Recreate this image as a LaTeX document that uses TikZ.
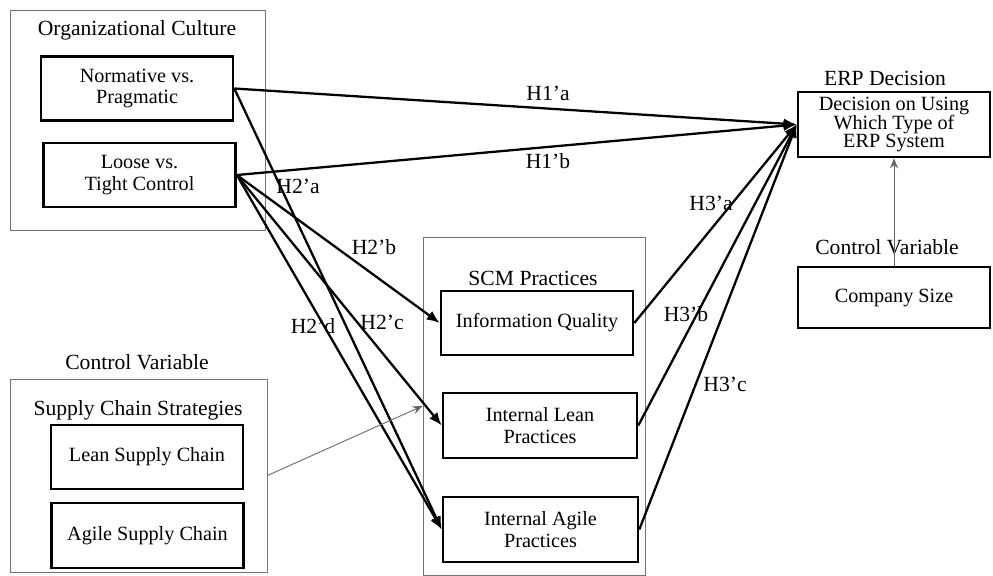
\documentclass[tikz,border=0pt]{standalone}
\usepackage{fontspec}
\setmainfont{Liberation Serif}
\usepackage{tikz}
\usetikzlibrary{arrows.meta,positioning}

\begin{document}
\begin{tikzpicture}[
  x=0.02cm, y=-0.02cm,
  font=\fontsize{11.5}{12.5}\selectfont,
  box/.style={
    draw, line width=1.5pt,
    align=center, inner sep=2pt,
    minimum width=3.84cm, minimum height=1.28cm
  },
  frame/.style={
    draw=black!55, line width=0.5pt
  },
  title/.style={
    font=\fontsize{12.3}{13}\selectfont, align=center},
  hyp/.style={
    font=\fontsize{12.3}{13}\selectfont},
  arrow/.style={
    -{Latex[length=2.6mm,width=2.1mm]},
    line width=1.3pt},
  thin/.style={
    -{Stealth[length=2mm,width=1.6mm]},
    draw=black!60, line width=0.5pt}
]

\useasboundingbox (0,0) rectangle (993,575);

\node[frame, minimum width=5.1cm, minimum height=4.4cm]
  (ocframe) at (137.5,120) {};
\node[title] (octitle) at (137,30) {Organizational Culture};
\node[box] (norm) at (137,88.5) {Normative vs.\\Pragmatic};
\node[box] (loose) at (139.5,175) {Loose vs.\\Tight Control};

\node[frame, minimum width=5.14cm, minimum height=3.86cm]
  (scframe) at (138.5,475.5) {};
\node[title] (cvleft) at (137,362) {Control Variable};
\node[title] (sctitle) at (138,410) {Supply Chain Strategies};
\node[box] (leansc) at (147,457) {Lean Supply Chain};
\node[box, minimum height=1.3cm] (agilesc) at (147.5,535.5)
  {Agile Supply Chain};

\node[frame, minimum width=4.44cm, minimum height=6.76cm]
  (scmframe) at (534,406) {};
\node[title] (scmtitle) at (533,278) {SCM Practices};
\node[box] (iq) at (537,323) {Information Quality};
\node[box, minimum width=3.88cm, minimum height=1.3cm] (lean)
  at (540,425.5) {Internal Lean\\Practices};
\node[box, minimum width=3.9cm, minimum height=1.3cm] (agile)
  at (540.5,529.5) {Internal Agile\\Practices};

\node[title] (erptitle) at (885,78) {ERP Decision};
\node[box, minimum height=1.3cm] (erp) at (894,124.5)
  {Decision on Using\\[-2pt]Which Type of\\[-2pt]ERP System};
\node[title] (cvright) at (887,247) {Control Variable};
\node[box, minimum height=1.22cm] (size) at (894,297.5)
  {Company Size};

\draw[arrow] (norm.east) -- (erp.west);
\draw[arrow] (loose.east) -- (erp.west);
\draw[arrow] (norm.east) -- (agile.west);
\draw[arrow] (loose.east) -- (iq.west);
\draw[arrow] (loose.east) -- (lean.west);
\draw[arrow] (loose.east) -- (agile.west);
\draw[arrow] (iq.east) -- (erp.west);
\draw[arrow] (lean.east) -- (erp.west);
\draw[arrow] (agile.east) -- (erp.west);

\draw[thin] (scframe.east) -- (scmframe.west);
\draw[thin] (size.north) -- (erp.south);

\node[hyp] (h1a) at (548,93) {H1'a};
\node[hyp] (h1b) at (548,161) {H1'b};
\node[hyp] (h2a) at (298,186) {H2'a};
\node[hyp] (h2b) at (374,247) {H2'b};
\node[hyp] (h2c) at (382,322) {H2'c};
\node[hyp] (h2d) at (313,326) {H2'd};
\node[hyp] (h3a) at (711,203) {H3'a};
\node[hyp] (h3b) at (686,314) {H3'b};
\node[hyp] (h3c) at (725,384) {H3'c};

\end{tikzpicture}
\end{document}
